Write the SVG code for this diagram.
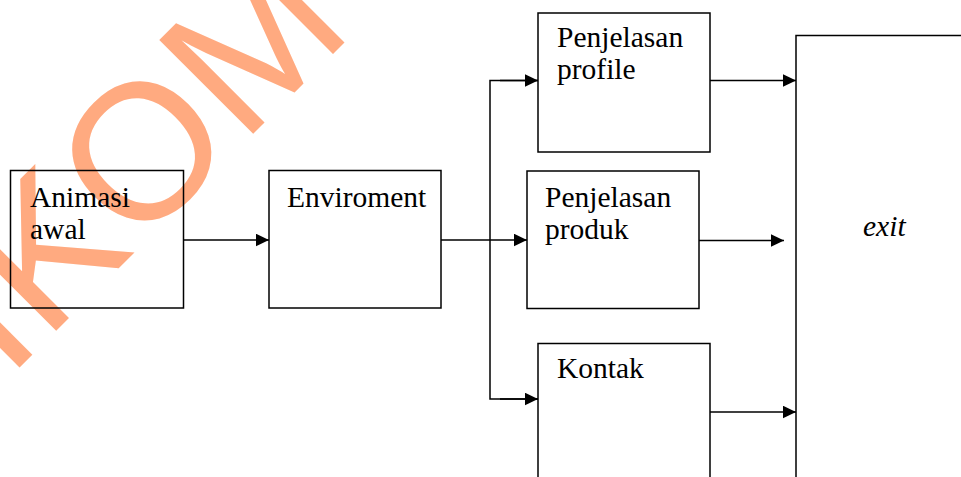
<svg xmlns="http://www.w3.org/2000/svg" width="961" height="477" viewBox="0 0 961 477">
<style>
.box{fill:none;stroke:#000;stroke-width:1.5}
.lbl{font-family:"Liberation Serif","Times New Roman",serif;font-size:29.5px;fill:#000}
.conn{fill:none;stroke:#000;stroke-width:1.5}
.wm{font-family:"Liberation Sans",Arial,sans-serif;font-size:193px;fill:#FFAA80}
</style>
<defs>
<marker id="ah" markerUnits="userSpaceOnUse" markerWidth="14" markerHeight="13" refX="13.5" refY="6.5" orient="auto">
<path d="M0,0 L13.5,6.5 L0,13 Z" fill="#000"/>
</marker>
</defs>
<rect width="961" height="477" fill="#fff"/>
<g id="watermark">
<text class="wm" transform="translate(7,380) rotate(-45)">IKOM</text>
</g>
<g id="connectors">
<line class="conn" x1="183" y1="240" x2="269" y2="240" marker-end="url(#ah)"/>
<line class="conn" x1="441" y1="240" x2="527" y2="240" marker-end="url(#ah)"/>
<polyline class="conn" points="538,80.5 490,80.5 490,399 538,399"/>
<line class="conn" x1="500" y1="80.5" x2="538" y2="80.5" marker-end="url(#ah)"/>
<line class="conn" x1="500" y1="399" x2="538" y2="399" marker-end="url(#ah)"/>
<line class="conn" x1="710" y1="80.5" x2="796" y2="80.5" marker-end="url(#ah)"/>
<line class="conn" x1="699" y1="240.5" x2="784" y2="240.5" marker-end="url(#ah)"/>
<line class="conn" x1="710" y1="412" x2="796" y2="412" marker-end="url(#ah)"/>
</g>
<g id="animasi">
<rect class="box" x="10.5" y="170.5" width="173" height="137.5"/>
<text class="lbl" x="30" y="207">Animasi</text>
<text class="lbl" x="30" y="239">awal</text>
</g>
<g id="enviroment">
<rect class="box" x="269" y="170.5" width="172" height="137.5"/>
<text class="lbl" x="287" y="207">Enviroment</text>
</g>
<g id="profile">
<rect class="box" x="538" y="13" width="172" height="139"/>
<text class="lbl" x="557" y="47">Penjelasan</text>
<text class="lbl" x="557" y="79">profile</text>
</g>
<g id="produk">
<rect class="box" x="527" y="171" width="172" height="137.5"/>
<text class="lbl" x="545" y="207">Penjelasan</text>
<text class="lbl" x="545" y="239">produk</text>
</g>
<g id="kontak">
<rect class="box" x="538" y="343.5" width="172" height="150"/>
<text class="lbl" x="557" y="378">Kontak</text>
</g>
<g id="exit">
<rect class="box" x="796" y="35.5" width="180" height="460"/>
<text class="lbl" x="863" y="236" font-style="italic">exit</text>
</g>
</svg>
